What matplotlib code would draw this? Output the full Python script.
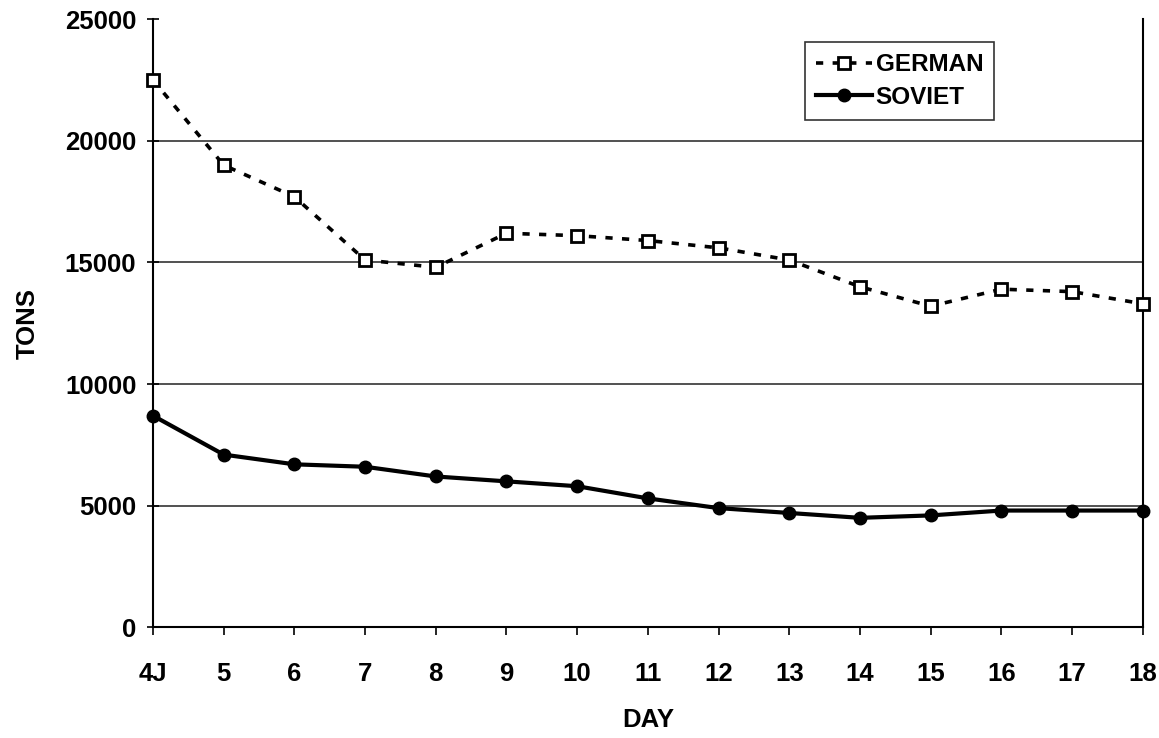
import numpy as np
import matplotlib.pyplot as plt

plt.rcParams['font.family'] = ['Liberation Sans', 'DejaVu Sans']
plt.rcParams['font.weight'] = 'bold'

days = ['4J', '5', '6', '7', '8', '9', '10', '11', '12', '13', '14', '15', '16', '17', '18']
german = [22500, 19000, 17700, 15100, 14800, 16200, 16100, 15900, 15600, 15100,
          14000, 13200, 13900, 13800, 13300]
soviet = [8700, 7100, 6700, 6600, 6200, 6000, 5800, 5300, 4900, 4700,
          4500, 4600, 4800, 4800, 4800]

fig = plt.figure(figsize=(11.59, 7.38), dpi=100)
ax = fig.add_axes([0.132, 0.150, 0.854, 0.824])

x = np.arange(len(days))
ax.plot(x, german, color='black', linestyle=(0, (2.0, 2.6)), linewidth=2.6,
        marker='s', markersize=9, markerfacecolor='white', markeredgecolor='black',
        markeredgewidth=2, label='GERMAN', clip_on=False, zorder=3)
ax.plot(x, soviet, color='black', linestyle='-', linewidth=3,
        marker='o', markersize=9, markerfacecolor='black', markeredgecolor='black',
        label='SOVIET', clip_on=False, zorder=3)

ax.set_xlim(0, len(days) - 1)
ax.set_ylim(0, 25000)
ax.set_yticks(np.arange(0, 25001, 5000))
ax.set_xticks(x)
ax.set_xticklabels(days)

for yv in [5000, 10000, 15000, 20000]:
    ax.axhline(yv, color='#333333', linewidth=1.2, zorder=1)

ax.spines['top'].set_visible(False)
for s in ['left', 'right', 'bottom']:
    ax.spines[s].set_linewidth(1.5)
    ax.spines[s].set_color('black')

ax.tick_params(axis='both', labelsize=18.5, width=1.2)
ax.tick_params(axis='y', length=8, direction='inout', pad=8)
ax.tick_params(axis='x', length=6, direction='out', pad=19)
for lab in ax.get_xticklabels() + ax.get_yticklabels():
    lab.set_fontweight('bold')

ax.set_xlabel('DAY', fontsize=18.5, fontweight='bold', labelpad=16)
ax.set_ylabel('TONS', fontsize=18.5, fontweight='bold', labelpad=18)

leg = ax.legend(loc='upper left', bbox_to_anchor=(0.659, 0.962),
                frameon=True, fancybox=False, handlelength=2.3, handletextpad=0.15,
                borderpad=0.45, labelspacing=0.4, borderaxespad=0,
                prop={'weight': 'bold', 'size': 17.5})
leg.get_frame().set_edgecolor('black')
leg.get_frame().set_linewidth(1.2)

fig.savefig('out.png', dpi=100, facecolor='white')
